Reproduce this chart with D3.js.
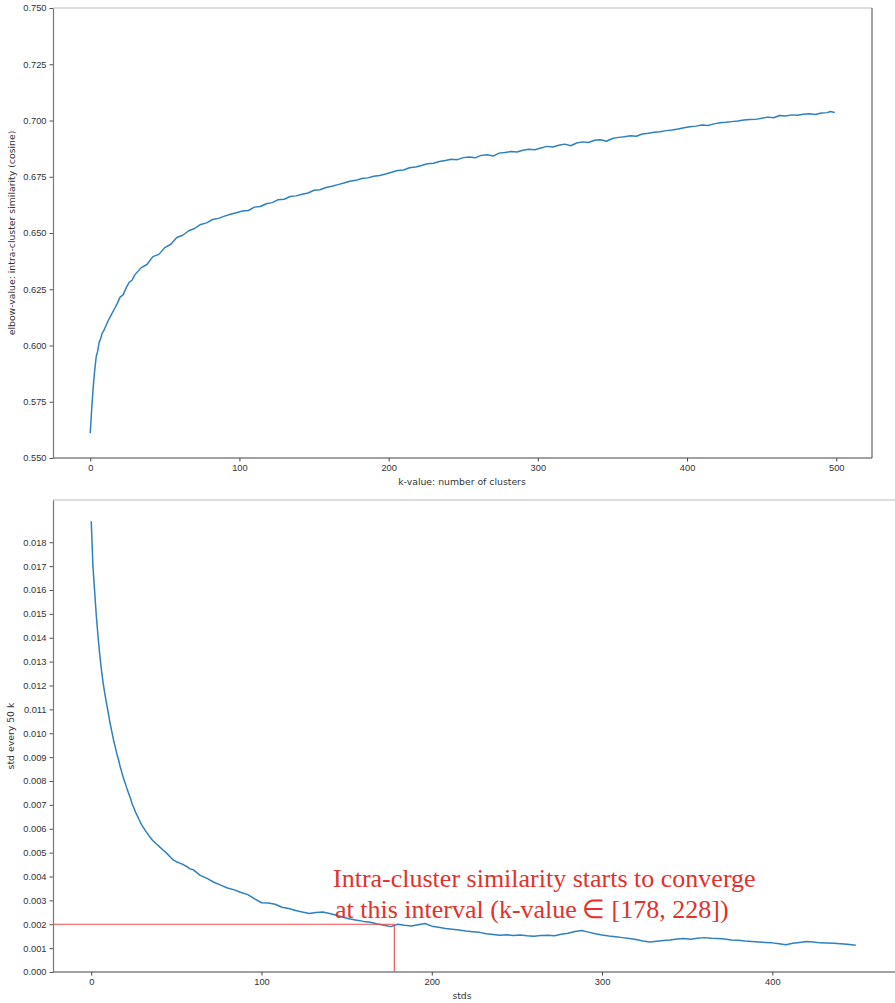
<!DOCTYPE html>
<html>
<head>
<meta charset="utf-8">
<script src="https://cdn.jsdelivr.net/npm/d3@7"></script>
<style>
  html, body { margin: 0; padding: 0; background: #fff; overflow: hidden; }
  svg { display: block; font-family: "DejaVu Sans", sans-serif; }
  .tick text { font-size: 9.3px; fill: #333; }
</style>
</head>
<body>
<svg id="chart" width="895" height="1003"></svg>
<script>
// elbow curve: k-value vs intra-cluster similarity
var kTop = [0,1,2,3,4,5,6,7,8,9,10,12,14,16,18,20,22,24,26,28,30,34,38,42,46,50,54,58,62,66,70,74,78,82,86,90,94,98,
  102,106,110,114,118,122,126,130,134,138,142,146,150,154,158,162,166,170,174,178,182,186,190,194,198,
  202,206,210,214,218,222,226,230,234,238,242,246,250,254,258,262,266,270,274,278,282,286,290,294,298,
  302,306,310,314,318,322,326,330,334,338,342,346,350,354,358,362,366,370,374,378,382,386,390,394,398,
  402,406,410,414,418,422,426,430,434,438,442,446,450,454,458,462,466,470,474,478,482,486,490,494,496,499];
var simTop = [.5610,.5720,.5815,.5890,.5950,.5975,.6015,.6030,.6055,.6065,.6080,.6110,.6135,.6160,.6185,.6215,.6225,.6255,.6280,.6290,.6315,.6345,.6360,.6395,.6405,.6435,.6450,.6480,.6490,.6510,.6520,.6538,.6545,.6560,.6565,.6575,.6583,.6590,
  .6598,.6600,.6615,.6618,.6630,.6635,.6648,.6650,.6662,.6665,.6672,.6678,.6690,.6692,.6702,.6708,.6715,.6722,.6730,.6734,.6742,.6745,.6752,.6756,.6762,
  .6770,.6778,.6780,.6790,.6793,.6800,.6808,.6810,.6818,.6822,.6828,.6826,.6835,.6838,.6834,.6845,.6848,.6842,.6855,.6858,.6862,.6860,.6868,.6872,.6870,
  .6878,.6885,.6882,.6890,.6895,.6888,.6900,.6905,.6902,.6912,.6914,.6908,.6920,.6925,.6928,.6932,.6930,.6940,.6943,.6948,.6950,.6955,.6958,.6962,.6968,
  .6972,.6975,.6980,.6978,.6985,.6990,.6992,.6995,.6998,.7002,.7004,.7005,.7010,.7015,.7012,.7022,.7020,.7025,.7023,.7028,.7030,.7027,.7033,.7035,.7040,.7036];
var topXTicks = [0,100,200,300,400,500];
var topYTicks = [0.550,0.575,0.600,0.625,0.650,0.675,0.700,0.725,0.750];

// std of the similarity every 50 k
var kStd = [0,1,2,3,4,5,6,7,8,9,10,11,12,13,14,15,16,17,18,19,20,21,22,23,24,25,26,27,28,29,30,32,34,36,38,40,42,44,46,48,50,52,54,56,58,
  60,64,68,72,76,80,84,88,92,96,100,104,108,112,116,120,124,128,132,136,140,144,148,152,156,160,164,168,172,176,180,184,188,192,196,
  200,204,208,212,216,220,224,228,232,236,240,244,248,252,256,260,264,268,272,276,280,284,288,292,296,
  300,304,308,312,316,320,324,328,332,336,340,344,348,352,356,360,364,368,372,376,380,384,388,392,396,
  400,404,408,412,416,420,424,428,432,436,440,444,449];
var stdVals = [.01888,.01700,.01595,.01490,.01405,.01330,.01265,.01210,.01165,.01125,.01085,.01045,.01010,.00975,.00945,.00915,.00890,.00860,.00835,.00810,.00790,.00768,.00748,.00728,.00705,.00688,.00670,.00655,.00640,.00625,.00612,.00590,.00570,.00552,.00538,.00525,.00512,.00500,.00485,.00470,.00462,.00456,.00450,.00442,.00432,
  .00428,.00405,.00392,.00376,.00364,.00352,.00344,.00333,.00324,.00306,.00290,.00289,.00284,.00271,.00266,.00258,.00251,.00245,.00249,.00251,.00245,.00238,.00229,.00222,.00217,.00212,.00208,.00201,.00196,.00190,.00200,.00196,.00193,.00198,.00203,
  .00192,.00187,.00182,.00179,.00176,.00172,.00169,.00166,.00160,.00157,.00154,.00156,.00153,.00155,.00152,.00150,.00153,.00154,.00152,.00158,.00162,.00170,.00174,.00167,.00160,
  .00155,.00151,.00148,.00144,.00140,.00136,.00130,.00126,.00129,.00132,.00134,.00138,.00140,.00137,.00141,.00144,.00141,.00140,.00138,.00134,.00133,.00130,.00128,.00126,.00124,
  .00122,.00118,.00114,.00120,.00124,.00128,.00126,.00122,.00121,.00120,.00118,.00116,.00112];
var stdXTicks = [0,100,200,300,400];
var stdYTicks = [0.000,0.001,0.002,0.003,0.004,0.005,0.006,0.007,0.008,0.009,0.010,0.011,0.012,0.013,0.014,0.015,0.016,0.017,0.018];

var markK = 178, markStd = 0.002;
var noteLines = ["Intra-cluster similarity starts to converge", "at this interval (k-value\u2009\u2208 [178, 228])"];

var svg = d3.select("#chart");
var lineColor = "#2f80c0";

function panel(o) {
  var g = svg.append("g");
  var x = d3.scaleLinear().domain(o.xDomain).range([o.left, o.right]);
  var y = d3.scaleLinear().domain(o.yDomain).range([o.bottom, o.top]);

  // frame
  g.append("line").attr("x1", o.left).attr("x2", o.frameRight).attr("y1", o.top).attr("y2", o.top)
    .attr("stroke", "#bbb").attr("stroke-width", 1.2);
  if (o.showRight) {
    g.append("line").attr("x1", o.right).attr("x2", o.right).attr("y1", o.top).attr("y2", o.bottom)
      .attr("stroke", "#666").attr("stroke-width", 1.2);
  }

  var xa = g.append("g").attr("transform", "translate(0," + o.bottom + ")")
    .call(d3.axisBottom(x).tickValues(o.xTicks).tickFormat(d3.format("d")).tickSize(3.5).tickPadding(3).tickSizeOuter(0));
  xa.select(".domain").attr("stroke", "#444").attr("stroke-width", 1.2).attr("d", "M" + o.left + ",0H" + o.frameRight);
  xa.selectAll(".tick line").attr("stroke", "#444");

  var ya = g.append("g").attr("transform", "translate(" + o.left + ",0)")
    .call(d3.axisLeft(y).tickValues(o.yTicks).tickFormat(d3.format(".3f")).tickSize(3.5).tickPadding(3).tickSizeOuter(0));
  ya.select(".domain").attr("stroke", "#777").attr("stroke-width", 1.2);
  ya.selectAll(".tick line").attr("stroke", "#555");

  var pts = o.xs.map(function(d, i) { return [d, o.ys[i]]; });
  g.append("path").datum(pts)
    .attr("fill", "none").attr("stroke", lineColor).attr("stroke-width", 1.5).attr("stroke-linejoin", "round")
    .attr("d", d3.line().x(function(d) { return x(d[0]); }).y(function(d) { return y(d[1]); }));

  g.append("text").attr("x", o.xLabelX).attr("y", o.bottom + 27).attr("text-anchor", "middle")
    .attr("font-size", "9.3px").attr("fill", "#333").text(o.xLabel);
  g.append("text").attr("transform", "translate(" + o.yLabelX + "," + ((o.top + o.bottom) / 2) + ") rotate(-90)")
    .attr("text-anchor", "middle").attr("font-size", "9.3px").attr("fill", "#333").text(o.yLabel);
  return {x: x, y: y, g: g};
}

panel({
  left: 53, right: 872, frameRight: 872, top: 8, bottom: 458, showRight: true,
  xDomain: [-24.95, 523.95], yDomain: [0.55, 0.75],
  xTicks: topXTicks, yTicks: topYTicks, xs: kTop, ys: simTop,
  xLabel: "k-value: number of clusters", xLabelX: 462,
  yLabel: "elbow-value: intra-cluster similarity (cosine)", yLabelX: 15
});

var p2 = panel({
  left: 53, right: 894, frameRight: 895, top: 500, bottom: 972, showRight: false,
  xDomain: [-22.45, 471.45], yDomain: [0, 0.01977],
  xTicks: stdXTicks, yTicks: stdYTicks, xs: kStd, ys: stdVals,
  xLabel: "stds", xLabelX: 462,
  yLabel: "std every 50 k", yLabelX: 14
});

// red marker lines
p2.g.append("line").attr("x1", 53).attr("x2", p2.x(markK)).attr("y1", p2.y(markStd)).attr("y2", p2.y(markStd))
  .attr("stroke", "#ef4a4a").attr("stroke-width", 1.1);
p2.g.append("line").attr("x1", p2.x(markK)).attr("x2", p2.x(markK)).attr("y1", p2.y(markStd)).attr("y2", p2.y(0))
  .attr("stroke", "#ef4a4a").attr("stroke-width", 1.1);

// annotation
var note = svg.append("text").attr("font-family", "'Liberation Serif', 'Times New Roman', serif")
  .attr("font-size", "26px").attr("fill", "#e3312d");
note.append("tspan").attr("x", 333).attr("y", 887).text(noteLines[0]);
note.append("tspan").attr("x", 335).attr("y", 918).text(noteLines[1]);
</script>
</body>
</html>
